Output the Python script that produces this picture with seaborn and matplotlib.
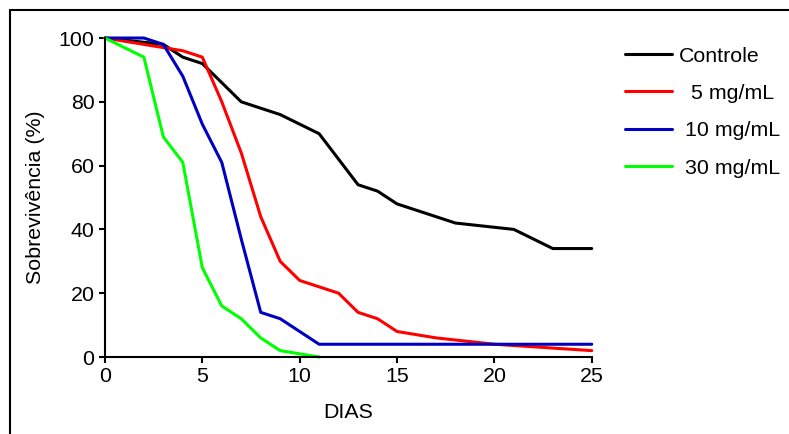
import seaborn as sns
import numpy as np
import pandas as pd
import matplotlib.pyplot as plt
from matplotlib.lines import Line2D

# survival curves
dias_controle = [0, 3, 4, 5, 7, 9, 11, 13, 14, 15, 18, 21, 23, 25]
sobre_controle = [100, 98, 94, 92, 80, 76, 70, 54, 52, 48, 42, 40, 34, 34]

dias_5 = [0, 1, 2, 3, 4, 5, 6, 7, 8, 9, 10, 12, 13, 14, 15, 17, 20, 25]
sobre_5 = [100, 99, 98, 97, 96, 94, 80, 64, 44, 30, 24, 20, 14, 12, 8, 6, 4, 2]

dias_10 = [0, 2, 3, 4, 5, 6, 7, 8, 9, 11, 25]
sobre_10 = [100, 100, 98, 88, 73, 61, 37, 14, 12, 4, 4]

dias_30 = [0, 2, 3, 4, 5, 6, 7, 8, 9, 11]
sobre_30 = [100, 94, 69, 61, 28, 16, 12, 6, 2, 0]

grupos = ["Controle", "  5 mg/mL", " 10 mg/mL", " 30 mg/mL"]
cores = ["#000000", "#ff0000", "#0000c0", "#00ff00"]

frames = []
for g, d, s in zip(grupos,
                   [dias_controle, dias_5, dias_10, dias_30],
                   [sobre_controle, sobre_5, sobre_10, sobre_30]):
    frames.append(pd.DataFrame({"dia": d, "sobrevivencia": s, "grupo": g}))
df = pd.concat(frames, ignore_index=True)

sns.set_style("ticks")
plt.rcParams['font.family'] = ['Liberation Sans', 'DejaVu Sans']
plt.rcParams.update({"text.color": "black", "axes.labelcolor": "black",
                     "xtick.color": "black", "ytick.color": "black"})

fig = plt.figure(figsize=(7.89, 4.34), dpi=100)
ax = fig.add_axes([0.133, 0.1774, 0.617, 0.735])

sns.lineplot(data=df, x="dia", y="sobrevivencia", hue="grupo",
             palette=dict(zip(grupos, cores)), linewidth=2.2, ax=ax,
             sort=False, estimator=None)
for ln in ax.lines:
    ln.set_clip_on(False)

ax.set_xlim(0, 25)
ax.set_ylim(0, 100)
ax.set_xticks(np.arange(0, 26, 5))
ax.set_yticks(np.arange(0, 101, 20))
ax.tick_params(axis="both", direction="out", length=4.5, width=1.5,
               labelsize=15.4, pad=3, color="black", labelcolor="black")
for side in ["left", "bottom"]:
    ax.spines[side].set_linewidth(1.5)
    ax.spines[side].set_color("black")
sns.despine(ax=ax)

ax.set_xlabel("DIAS", fontsize=15.4, labelpad=12)
ax.set_ylabel("Sobrevivência (%)", fontsize=15.4, labelpad=10)

handles, labels = ax.get_legend_handles_labels()
ax.legend(handles, labels, loc="upper left", bbox_to_anchor=(1.05, 1.0),
          frameon=False, fontsize=15.4, handlelength=2.2, handletextpad=0.35,
          labelspacing=0.86, borderaxespad=0)

# outer frame visible at top and left
fig.add_artist(Line2D([10 / 789, 10 / 789], [0, 1 - 10 / 434],
                      transform=fig.transFigure, color="black", lw=1.5))
fig.add_artist(Line2D([10 / 789, 1], [1 - 10 / 434, 1 - 10 / 434],
                      transform=fig.transFigure, color="black", lw=1.5))

fig.savefig("out.png", dpi=100)
